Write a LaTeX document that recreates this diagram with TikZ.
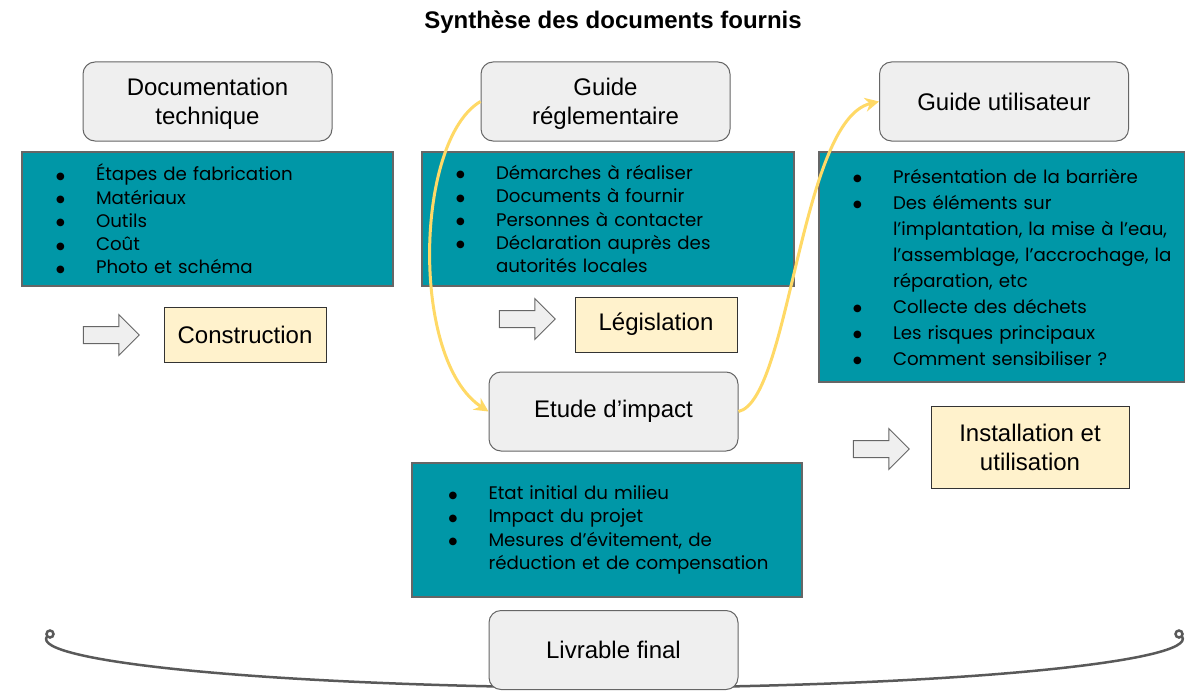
\documentclass[tikz,border=0pt]{standalone}
\usepackage{fontspec}
\setmainfont{Liberation Sans}
\newfontfamily\listfont{Poppins}
\newfontfamily\dotfont{DejaVu Sans}
\usetikzlibrary{shapes.arrows,arrows.meta}

\definecolor{docgray}{HTML}{EFEFEF}
\definecolor{docedge}{HTML}{666666}
\definecolor{docteal}{HTML}{0097A7}
\definecolor{docsand}{HTML}{FFF2CC}
\definecolor{docgold}{HTML}{FFD966}
\definecolor{docline}{HTML}{595959}

% list lines: bullet + text, and continuation lines
\newcommand{\bul}[1]{\mbox{\makebox[40pt][l]{\raisebox{1.5pt}{\dotfont\fontsize{10}{10}\selectfont ●}}#1}}
\newcommand{\ind}[1]{\mbox{\hspace*{40pt}#1}}

\begin{document}
\begin{tikzpicture}[x=1pt,y=-1pt,
  doc/.style={draw=docedge, line width=1pt, fill=docgray, rounded corners=12pt,
    minimum width=249pt, minimum height=79pt, align=center,
    font=\fontsize{24}{29}\selectfont},
  twolines/.style={text depth=0pt},
  items/.style={draw=docedge, line width=1.5pt, fill=docteal, inner xsep=34pt,
    minimum height=134pt, align=left, font=\listfont\fontsize{18.2}{23.3}\selectfont},
  goal/.style={draw=black!80, line width=1pt, fill=docsand, minimum width=162pt,
    minimum height=55pt, align=center, font=\fontsize{24}{29}\selectfont},
  push/.style={single arrow, draw=docedge, fill=docgray, line width=1pt,
    inner xsep=0pt, inner ysep=8pt, minimum height=56pt, minimum width=40pt,
    single arrow head extend=12pt},
  link/.style={docgold, line width=3pt, -{Stealth[length=14pt,width=14pt]}}]
  \useasboundingbox (0,0) rectangle (1185,693);

  \node[font=\bfseries\fontsize{24}{28}\selectfont] (title) at (613,22) {Synthèse des documents fournis};

  % the three guides
  \node[doc, twolines] (tech) at (207.5,101.5) {Documentation\\technique};
  \node[doc, twolines] (regl) at (605.5,101.5) {Guide\\réglementaire};
  \node[doc] (user) at (1004,101.5) {Guide utilisateur};

  \node[items, text width=303pt] (techlist) at (207.5,219) {%
    \bul{Étapes de fabrication}\\
    \bul{Matériaux}\\
    \bul{Outils}\\
    \bul{Coût}\\
    \bul{Photo et schéma}};
  \node[items, text width=304pt] (regllist) at (608,219) {%
    \bul{Démarches à réaliser}\\
    \bul{Documents à fournir}\\
    \bul{Personnes à contacter}\\
    \bul{Déclaration auprès des}\\
    \ind{autorités locales}};
  \node[items, text width=298pt, minimum height=230pt,
    font=\listfont\fontsize{18.2}{26}\selectfont] (userlist) at (1002,267) {%
    \bul{Présentation de la barrière}\\
    \bul{Des éléments sur}\\
    \ind{l’implantation, la mise à l’eau,}\\
    \ind{l’assemblage, l’accrochage, la}\\
    \ind{réparation, etc}\\
    \bul{Collecte des déchets}\\
    \bul{Les risques principaux}\\
    \bul{Comment sensibiliser ?}};

  % outcomes
  \node[push] (techpush) at (107,335) {};
  \node[goal] (build) at (245,334.5) {Construction};
  \node[push] (reglpush) at (523,319) {};
  \node[goal] (law) at (656,324.5) {Législation};
  \node[push] (userpush) at (877,449) {};
  \node[goal, minimum width=198pt, minimum height=82pt] (setup) at (1030,447) {Installation et\\utilisation};

  % impact study
  \node[doc] (impact) at (613.5,411.5) {Etude d’impact};
  \node[items, inner xsep=36.5pt, text width=317pt] (impactlist) at (607,530) {%
    \bul{Etat initial du milieu}\\
    \bul{Impact du projet}\\
    \bul{Mesures d’évitement, de}\\
    \ind{réduction et de compensation}};

  \draw[link] (regl.west) .. controls (415,140) and (410,360) .. (impact.west);
  \draw[link] (impact.east) .. controls (790,400) and (800,120) .. (user.west);

  % bracket under everything
  \coordinate (lend) at (50,634);
  \coordinate (rend) at (1179,634);
  \draw[docline, line width=2.5pt] (lend) circle (3.5pt) (rend) circle (3.5pt);
  \draw[docline, line width=2.5pt] ([shift={(-3,2.5)}]lend)
    .. controls (30,660) and (250,686) .. (613,688)
    .. controls (976,686) and (1198,660) .. ([shift={(3,2.5)}]rend);

  \node[doc] (final) at (613.5,650) {Livrable final};
\end{tikzpicture}
\end{document}
